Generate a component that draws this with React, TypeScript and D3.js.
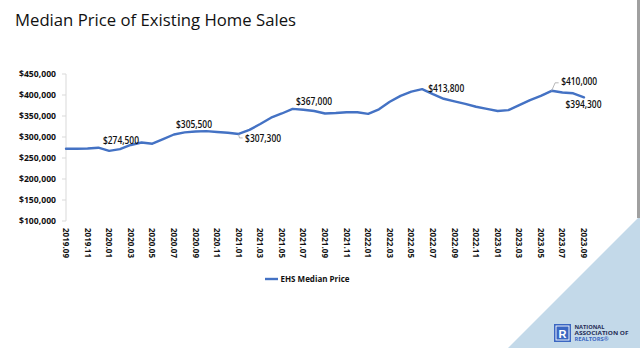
import React from "react";
import * as d3 from "d3";

const months = [
  "2019.09","2019.10","2019.11","2019.12",
  "2020.01","2020.02","2020.03","2020.04","2020.05","2020.06","2020.07","2020.08","2020.09","2020.10","2020.11","2020.12",
  "2021.01","2021.02","2021.03","2021.04","2021.05","2021.06","2021.07","2021.08","2021.09","2021.10","2021.11","2021.12",
  "2022.01","2022.02","2022.03","2022.04","2022.05","2022.06","2022.07","2022.08","2022.09","2022.10","2022.11","2022.12",
  "2023.01","2023.02","2023.03","2023.04","2023.05","2023.06","2023.07","2023.08","2023.09",
];

const medianPrice = [
  272000, 272000, 272500, 274500,
  267000, 271000, 281000, 287000, 284000, 295000, 306000, 311000, 313000, 314000, 312000, 310000,
  307300, 317000, 331000, 346000, 356000, 367000, 365000, 362000, 356000, 357000, 359000, 359000,
  355000, 366000, 384000, 398000, 408000, 413800, 402000, 391000, 385000, 379000, 372000, 367000,
  362000, 364000, 376000, 388000, 398000, 410000, 406000, 404000, 394300,
];

const yTicks = [100000, 150000, 200000, 250000, 300000, 350000, 400000, 450000];
const xTickLabels = months.filter((_, i) => i % 2 === 0);

const labelMonths = ["2019.12", "2020.09", "2021.01", "2021.06", "2022.06", "2023.06", "2023.09"];
const labelTexts = ["$274,500", "$305,500", "$307,300", "$367,000", "$413,800", "$410,000", "$394,300"];

const seriesName = "EHS Median Price";
const title = "Median Price of Existing Home Sales";

const W = 640;
const H = 348;
const BLUE = "#4472C4";
const FONT = "'Open Sans', 'Noto Sans', sans-serif";

export default function App() {
  const x = d3.scalePoint<string>().domain(months).range([66, 584]);
  const y = d3.scaleLinear().domain([100000, 450000]).range([221, 74]);
  const line = d3
    .line<number>()
    .x((_, i) => x(months[i]) as number)
    .y((d) => y(d));
  const fmt = (v: number) => "$" + d3.format(",")(v);

  // label offsets (dx, dy relative to point), anchor
  const labelPos: [number, number, string][] = [
    [4.6, -3.8, "start"],
    [-1.5, -3.5, "middle"],
    [6.4, 8.2, "start"],
    [3.4, -4.3, "start"],
    [6.1, 2.6, "start"],
    [9.5, -6.3, "start"],
    [-18.5, 10.6, "start"],
  ];

  return (
    <svg
      width={W}
      height={H}
      style={{ position: "absolute", left: 0, top: 0, background: "#fff" }}
      fontFamily={FONT}
    >
      <rect x={0} y={0} width={W} height={H} fill="#ffffff" />
      {/* decorative triangle & border */}
      <polygon points={`${W},216 ${W},${H} 508,${H}`} fill="#c3d9e9" />
      <rect x={637} y={0} width={3} height={218} fill="#a0a0a0" />

      <text
        x={15}
        y={26}
        fontSize={17}
        fill="#111"
        textLength={281}
        lengthAdjust="spacingAndGlyphs"
      >
        {title}
      </text>

      {/* y axis */}
      <line x1={66} x2={66} y1={y(450000)} y2={y(100000)} stroke="#d9d9d9" strokeWidth={1} />
      {yTicks.map((t) => (
        <g key={t}>
          <line x1={62} x2={66} y1={y(t)} y2={y(t)} stroke="#d9d9d9" />
          <text
            x={56}
            y={y(t)}
            dy="0.35em"
            textAnchor="end"
            fontSize={9}
            fontWeight={700}
            fill="#111"
            textLength={37}
            lengthAdjust="spacingAndGlyphs"
          >
            {fmt(t)}
          </text>
        </g>
      ))}

      {/* x labels */}
      {xTickLabels.map((m) => (
        <text
          key={m}
          transform={`translate(${x(m)},228) rotate(90)`}
          dy="0.35em"
          fontSize={8.5}
          fontWeight={700}
          fill="#111"
          textLength={30}
          lengthAdjust="spacingAndGlyphs"
        >
          {m}
        </text>
      ))}

      {/* series */}
      <path d={line(medianPrice) || ""} fill="none" stroke={BLUE} strokeWidth={2.4} strokeLinejoin="round" strokeLinecap="round" />

      {/* leader lines */}
      {(() => {
        const i1 = months.indexOf("2021.01");
        const px1 = x(months[i1]) as number;
        const py1 = y(medianPrice[i1]);
        const i2 = months.indexOf("2023.06");
        const px2 = x(months[i2]) as number;
        const py2 = y(medianPrice[i2]);
        return (
          <g fill="none" stroke="#a6a6a6" strokeWidth={0.8}>
            <polyline points={`${px1},${py1 + 0.5} ${px1 + 0.8},${py1 + 4} ${px1 + 4},${py1 + 4}`} />
            <polyline points={`${px2},${py2} ${px2 + 3.5},${py2 - 8} ${px2 + 7},${py2 - 8}`} />
          </g>
        );
      })()}

      {/* data labels */}
      {labelMonths.map((m, k) => {
        const i = months.indexOf(m);
        const px = x(m) as number;
        const py = y(medianPrice[i]);
        const [dx, dy, anchor] = labelPos[k];
        return (
          <text
            key={m}
            x={px + dx}
            y={py + dy}
            textAnchor={anchor as any}
            fontSize={9.8}
            fontWeight={600}
            fill="#111"
            textLength={36}
            lengthAdjust="spacingAndGlyphs"
          >
            {labelTexts[k]}
          </text>
        );
      })}

      {/* legend */}
      <line x1={265} x2={278} y1={279} y2={279} stroke={BLUE} strokeWidth={2.4} />
      <text
        x={280.5}
        y={279}
        dy="0.35em"
        fontSize={8.5}
        fontWeight={700}
        fill="#111"
        textLength={69}
        lengthAdjust="spacingAndGlyphs"
      >
        {seriesName}
      </text>

      {/* logo */}
      <g>
        <rect x={554} y={324} width={17} height={18} fill="#3a66c2" />
        <rect x={556} y={326} width={13} height={14} fill="none" stroke="#fff" strokeWidth={0.9} />
        <text x={562.5} y={337.5} textAnchor="middle" fontSize={11} fontWeight={700} fill="#fff" fontFamily="'Liberation Sans', sans-serif">
          R
        </text>
        <text x={574.5} y={329.3} fontSize={5} fontWeight={700} fill="#1f2c55" textLength={30} lengthAdjust="spacingAndGlyphs">
          NATIONAL
        </text>
        <text x={574.5} y={335.3} fontSize={5} fontWeight={700} fill="#1f2c55" textLength={54} lengthAdjust="spacingAndGlyphs">
          ASSOCIATION OF
        </text>
        <text x={574.5} y={341.3} fontSize={5} fontWeight={700} fill="#3a66c2" textLength={34} lengthAdjust="spacingAndGlyphs">
          REALTORS®
        </text>
      </g>
    </svg>
  );
}
